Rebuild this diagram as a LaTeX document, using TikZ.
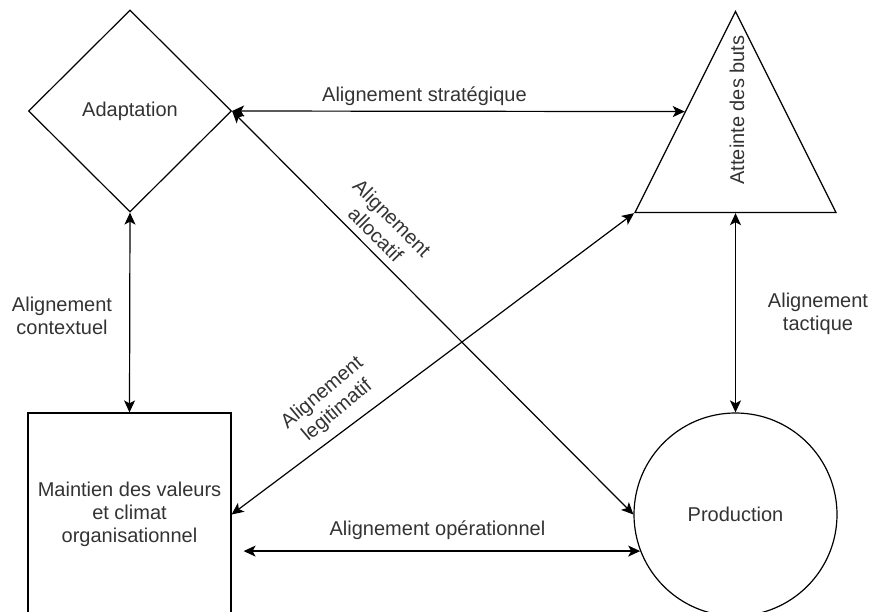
\documentclass[tikz,border=0pt]{standalone}
\usepackage{fontspec}
\setmainfont{Liberation Sans}
\usetikzlibrary{arrows.meta, shapes.geometric, calc}

\begin{document}
\begin{tikzpicture}[x=1pt, y=-1pt,
        every node/.style={font=\fontsize{20}{23}\selectfont, text=black!80},
        shapebox/.style={
          draw=black, line width=1.2pt, inner sep=0pt, align=center},
        link/.style={
          <->, line width=1.2pt,
          >={Stealth[length=12pt, width=11pt, inset=3pt]}},
        tag/.style={align=center, inner sep=0pt}
      ]
        \useasboundingbox (0,0) rectangle (873,612);
        \node[shapebox, diamond, minimum width=203pt, minimum height=202pt]
          (adapt) at (130, 111) {Adaptation};
        \node[shapebox, isosceles triangle, isosceles triangle stretches,
          rotate=90, minimum width=201pt, minimum height=201pt, anchor=apex]
          (goals) at (735.5, 10) {};
        \node[tag, rotate=90] (goaltxt) at (737, 110) {Atteinte des buts};
        \node[shapebox, rectangle, minimum width=203pt, minimum height=203pt]
          (maint) at (129.5, 514.5)
          {Maintien des valeurs\\ et climat\\ organisationnel};
        \node[shapebox, circle, minimum size=203pt]
          (prod) at (735.5, 514.5) {Production};
        \coordinate (opend) at (prod.201.6);
        \draw[link] (adapt.east) -- (goals.left side);
        \draw[link] (adapt.south) -- (maint.north);
        \draw[link] (goals.lower side) -- (prod.north);
        \draw[link] (adapt.east) -- (prod.west);
        \draw[link] (goals.left corner) -- (maint.east);
        \draw[link, shorten <=12pt] (opend -| maint.east) -- (opend);
        \node[tag] (lstrat) at (424.5, 96) {Alignement stratégique};
        \node[tag] (lcont) at (62, 316) {Alignement\\ contextuel};
        \node[tag] (ltact) at (818, 314) {Alignement\\ tactique};
        \node[tag] (lop) at (437.5, 530) {Alignement opérationnel};
        \node[tag, rotate=-45] (lalloc) at (384, 226) {Alignement\\ allocatif};
        \node[tag, rotate=40] (llegit) at (330, 402) {Alignement\\ legitimatif};
      \end{tikzpicture}
\end{document}
